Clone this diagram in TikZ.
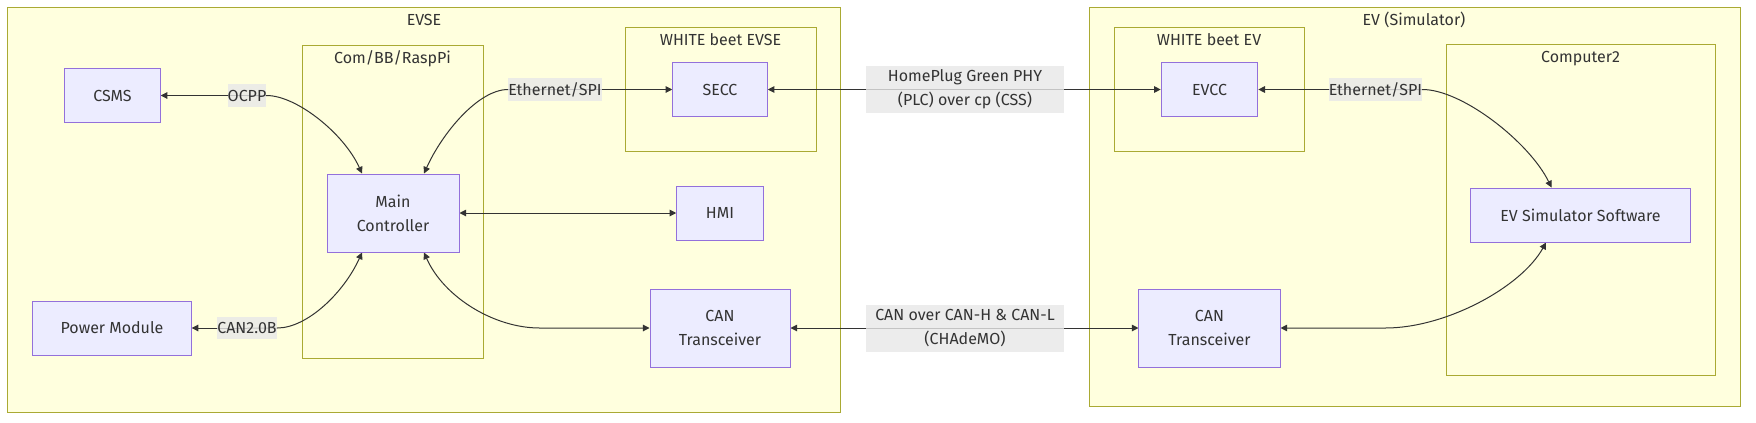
\documentclass[tikz,border=0pt]{standalone}
\usepackage{fontspec}
\setmainfont{Fira Sans}
\usetikzlibrary{arrows.meta,calc}
\definecolor{clfill}{HTML}{FFFFDE}
\definecolor{cldraw}{HTML}{AAAA33}
\definecolor{ndfill}{HTML}{ECECFF}
\definecolor{nddraw}{HTML}{9370DB}
\definecolor{lbfill}{HTML}{E8E8E8}
\definecolor{ink}{HTML}{333333}
\pgfdeclarelayer{bg}\pgfdeclarelayer{edges}\pgfsetlayers{bg,edges,main}
\begin{document}
\begin{tikzpicture}[x=0.75pt,y=-0.75pt,
 every node/.style={font=\fontsize{12}{18}\selectfont, text=ink},
 cluster/.style={draw=cldraw, fill=clfill, line width=0.75pt},
 ctitle/.style={anchor=base, inner sep=0pt},
 box/.style={draw=nddraw, fill=ndfill, line width=0.75pt, inner sep=0pt, align=center},
 lbl/.style={fill=lbfill, fill opacity=0.8, text opacity=1, inner xsep=0pt, inner ysep=0pt, minimum height=17pt, align=center},
 conn/.style={draw=ink, line width=0.75pt},
 endarrow/.style={-{Triangle[length=5pt,width=5pt]}},
 botharrow/.style={{Triangle[length=5pt,width=5pt]}-{Triangle[length=5pt,width=5pt]}}]
\begin{pgfonlayer}{bg}
\fill[white] (0,0) rectangle (1756,422);
\draw[cluster] (7.7,7.3) rectangle (840,412);
\draw[cluster] (302,45.7) rectangle (483,358);
\draw[cluster] (625,27.7) rectangle (816,151);
\draw[cluster] (1089,7.3) rectangle (1740,406);
\draw[cluster] (1114,27.7) rectangle (1304.6,151);
\draw[cluster] (1446,44.3) rectangle (1715,375);
\end{pgfonlayer}
\useasboundingbox (0,0) rectangle (1756,422);
% cluster titles
\node[ctitle] (tevse) at (424,25.5) {EVSE};
\node[ctitle] (tcom) at (392.5,63.3) {Com/BB/RaspPi};
\node[ctitle] (twbevse) at (720.5,45) {WHITE beet EVSE};
\node[ctitle] (tev) at (1414,25.5) {EV (Simulator)};
\node[ctitle] (twbev) at (1209,45) {WHITE beet EV};
\node[ctitle] (tcomp) at (1580.5,62.7) {Computer2};
% nodes
\node[box, minimum width=71.6pt, minimum height=40.2pt] (csms) at (112.5,95.5) {CSMS};
\node[box, minimum width=70.9pt, minimum height=40.2pt] (secc) at (720,89.5) {SECC};
\node[box, minimum width=99pt, minimum height=58.5pt] (main) at (393,213) {Main\\Controller};
\node[box, minimum width=64.9pt, minimum height=40.5pt] (hmi) at (720,213) {HMI};
\node[box, minimum width=118.8pt, minimum height=40.5pt] (power) at (112,328) {Power Module};
\node[box, minimum width=105pt, minimum height=58.5pt] (can1) at (720,328) {CAN\\Transceiver};
\node[box, minimum width=72.5pt, minimum height=40.5pt] (evcc) at (1209.5,89.5) {EVCC};
\node[box, minimum width=164.3pt, minimum height=40.5pt] (evsim) at (1580.5,215) {EV Simulator Software};
\node[box, minimum width=105.8pt, minimum height=58.5pt] (can2) at (1209.5,328) {CAN\\Transceiver};
% edge labels
\node[lbl, minimum width=28.1pt] (ocpp) at (247,95.5) {OCPP};
\node[lbl, minimum width=67.8pt] (eth1) at (555,89.5) {Ethernet/SPI};
\node[lbl, minimum width=45pt] (can20b) at (247,328) {CAN2.0B};
\node[lbl, minimum width=68.3pt] (eth2) at (1375.5,89.5) {Ethernet/SPI};
\node[lbl, minimum width=148.5pt, minimum height=35.25pt] (homeplug) at (965,89.7) {HomePlug Green PHY\\(PLC) over cp (CSS)};
\node[lbl, minimum width=148.5pt, minimum height=35.25pt] (canover) at (965,328.5) {CAN over CAN-H \& CAN-L\\(CHAdeMO)};
% edges
\begin{pgfonlayer}{edges}
\draw[conn,endarrow] (ocpp.center) -- (csms.east);
\draw[conn,endarrow] (ocpp.center) -- (ocpp.east) .. controls +(30,0) and +(-18,-40) .. ($(main.north)+(-31,0)$);
\draw[conn,endarrow] (eth1.center) -- (secc.west);
\draw[conn,endarrow] (eth1.center) -- (eth1.west) .. controls +(-30,0) and +(18,-40) .. ($(main.north)+(31,0)$);
\draw[conn,botharrow] (main.east) -- (hmi.west);
\draw[conn,endarrow] (can20b.center) -- (power.east);
\draw[conn,endarrow] (can20b.center) -- (can20b.east) .. controls +(30,0) and +(-18,40) .. ($(main.south)+(-31,0)$);
\draw[conn,botharrow] ($(main.south)+(31,0)$) .. controls +(20,45) and +(-45,0) .. ($(can1.west)+(-110,0)$) -- (can1.west);
\draw[conn,botharrow] (secc.east) -- (evcc.west);
\draw[conn,botharrow] (can1.east) -- (can2.west);
\draw[conn,endarrow] (eth2.center) -- (evcc.east);
\draw[conn,endarrow] (eth2.center) -- (eth2.east) .. controls +(40,0) and +(-22,-45) .. ($(evsim.north)+(-29,0)$);
\draw[conn,botharrow] (can2.east) -- ($(can2.east)+(105,0)$) .. controls +(60,0) and +(-25,45) .. ($(evsim.south)+(-34.5,0)$);
\end{pgfonlayer}
\end{tikzpicture}
\end{document}
